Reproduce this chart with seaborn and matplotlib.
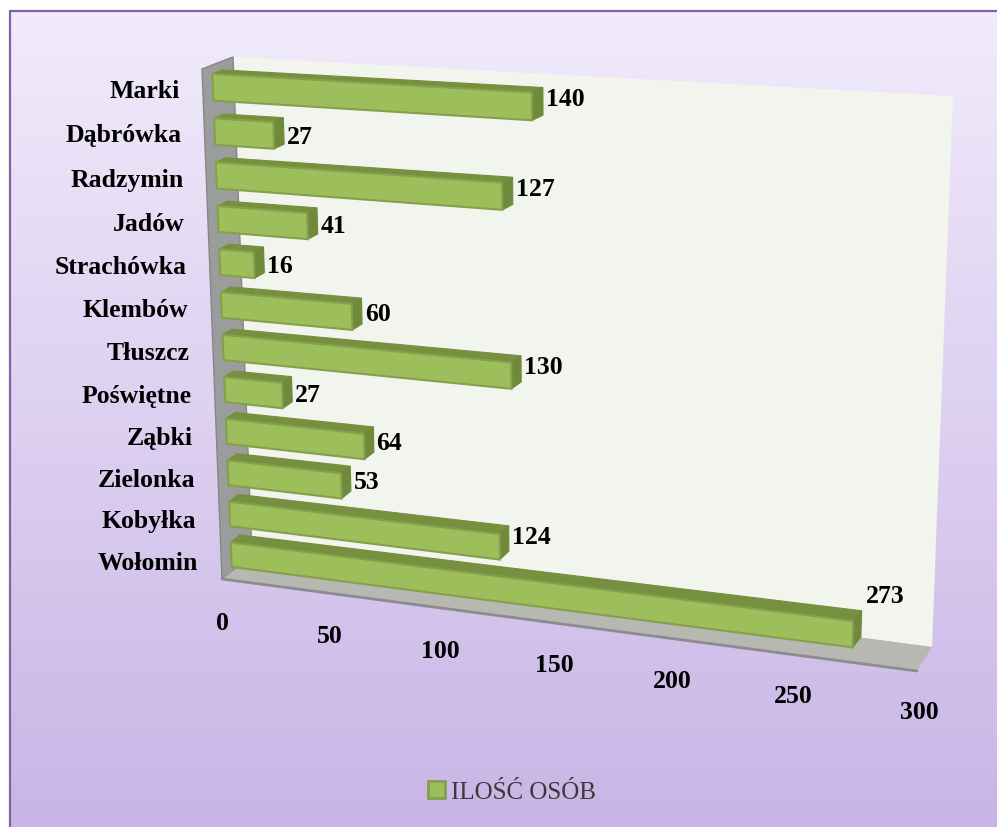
import numpy as np
import pandas as pd
import seaborn as sns
import matplotlib
matplotlib.use('Agg')
import matplotlib.pyplot as plt
from matplotlib.patches import Polygon, Patch
from matplotlib.transforms import Transform

places = ['Marki', 'Dąbrówka', 'Radzymin', 'Jadów', 'Strachówka', 'Klembów',
          'Tłuszcz', 'Poświętne', 'Ząbki', 'Zielonka', 'Kobyłka', 'Wołomin']
people = [140, 27, 127, 41, 16, 60, 130, 27, 64, 53, 124, 273]
x_ticks = [0, 50, 100, 150, 200, 250, 300]
series_name = 'ILOŚĆ OSÓB'

W, H = 997, 828
FRONT_FACE = '#9dbf5b'
BAR_EDGE = '#869f4c'
TOP_FACE = '#76903f'
SIDE_FACE = '#6f8a3b'


# projective map from (value, row) to picture pixels
class Perspective(Transform):
    input_dims = 2
    output_dims = 2
    is_separable = False
    has_inverse = False

    def __init__(self, corners):
        super().__init__()
        src = [(0, -0.5), (300, -0.5), (300, 11.5), (0, 11.5)]
        a, b = [], []
        for (u, v), (x, y) in zip(src, corners):
            a.append([u, v, 1, 0, 0, 0, -u * x, -v * x])
            a.append([0, 0, 0, u, v, 1, -u * y, -v * y])
            b += [x, y]
        self.m = np.append(np.linalg.solve(np.array(a, float), np.array(b, float)), 1).reshape(3, 3)

    def transform_non_affine(self, values):
        pts = np.asarray(values, float)
        full = np.column_stack([pts, np.ones(len(pts))]) @ self.m.T
        return full[:, :2] / full[:, 2:]


front = Perspective([(212, 66), (936, 107), (920, 666), (232, 576)])
back = Perspective([(222, 62), (948, 101), (928, 655), (241, 568)])

sns.set_theme(style='white')
plt.rcParams['font.family'] = ['Liberation Serif', 'DejaVu Serif']

fig = plt.figure(figsize=(W / 100, H / 100), dpi=100, facecolor='white')
canvas = fig.add_axes([0, 0, 1, 1])
canvas.axis('off')

# background gradient and frame
grad = np.linspace(0, 1, 256)[:, None, None]
top_col = np.array(matplotlib.colors.to_rgb('#f1ebfb'))
bot_col = np.array(matplotlib.colors.to_rgb('#c9b5e6'))
canvas.imshow(top_col + grad * (bot_col - top_col), extent=(10, W, H, 12), aspect='auto', zorder=0)
canvas.set_xlim(0, W)
canvas.set_ylim(H, 0)
canvas.plot([10, 10, W], [H, 12, 12], color='#8064a2', lw=1.6, zorder=1)

# walls and floor
canvas.add_patch(Polygon([(233, 58), (953, 97), (932, 648), (252, 558)], fc='#f2f5ed', ec='none', zorder=1))
canvas.add_patch(Polygon([(202, 70), (233, 58), (252, 558), (222, 580)], fc='#9b9d9d', ec='#858787', lw=1, zorder=1))
canvas.add_patch(Polygon([(222, 580), (252, 558), (932, 648), (917, 672)], fc='#b6b8b1', ec='none', zorder=1))
canvas.plot([222, 917], [580, 672], color='#8b8b90', lw=2, zorder=2)

# bars through seaborn, then pushed into the 3d plane
df = pd.DataFrame({'place': places, 'people': people})
ax = fig.add_axes([0, 0, 1, 1])
ax.patch.set_visible(False)
sns.barplot(data=df, x='people', y='place', orient='h', width=0.6, color=FRONT_FACE,
            saturation=1, edgecolor=BAR_EDGE, linewidth=1.5, ax=ax)
ax.axis('off')

for row, (bar, val) in enumerate(zip(list(ax.patches), people)):
    y0, y1 = bar.get_y(), bar.get_y() + bar.get_height()
    x1 = bar.get_width()
    top = np.vstack([front.transform([(0, y0), (x1, y0)]), back.transform([(x1, y0), (0, y0)])])
    side = np.vstack([front.transform([(x1, y0), (x1, y1)]), back.transform([(x1, y1), (x1, y0)])])
    z = 3 + row
    ax.add_patch(Polygon(top, fc=TOP_FACE, ec=TOP_FACE, lw=0.8, transform=canvas.transData, clip_on=False, zorder=z))
    ax.add_patch(Polygon(side, fc=SIDE_FACE, ec=SIDE_FACE, lw=0.8, transform=canvas.transData, clip_on=False, zorder=z))
    bar.set_transform(front + canvas.transData)
    bar.set_clip_on(False)
    bar.set_zorder(z + 0.5)

    # value next to the bar end, the long bar has it above
    bx, by = back.transform([(x1, row)])[0]
    if val == max(people):
        lab_x, lab_y = bx + 5, by - 28
    else:
        lab_x, lab_y = bx + 3, by + 7 - 0.07 * val
    ax.text(lab_x, lab_y, str(val), transform=canvas.transData, ha='left', va='center',
            fontsize=18.5, fontweight='bold', color='black', zorder=30)

    # category label left of the wall
    lx, ly = front.transform([(0, row)])[0]
    ax.text(lx - 33, ly + 3 + row * 0.4, places[row], transform=canvas.transData, ha='right', va='center',
            fontsize=18.5, fontweight='bold', color='black', zorder=30)

ax.set_xlim(0, 300)
ax.set_ylim(11.5, -0.5)

for t in x_ticks:
    tx, ty = front.transform([(t, 11.5)])[0]
    ax.text(tx - 10 + t * 0.03, ty + 47, str(t), transform=canvas.transData, ha='center', va='center',
            fontsize=18.5, fontweight='bold', color='black', zorder=30)

fig.legend(handles=[Patch(fc=FRONT_FACE, ec=BAR_EDGE, lw=2)], labels=[series_name],
           loc='center', bbox_to_anchor=(512 / W, 1 - 793 / H), frameon=False, fontsize=18,
           handlelength=0.65, handleheight=0.65, handletextpad=0.25, labelcolor='#3a3a3a')

fig.savefig('out.png', dpi=100)
